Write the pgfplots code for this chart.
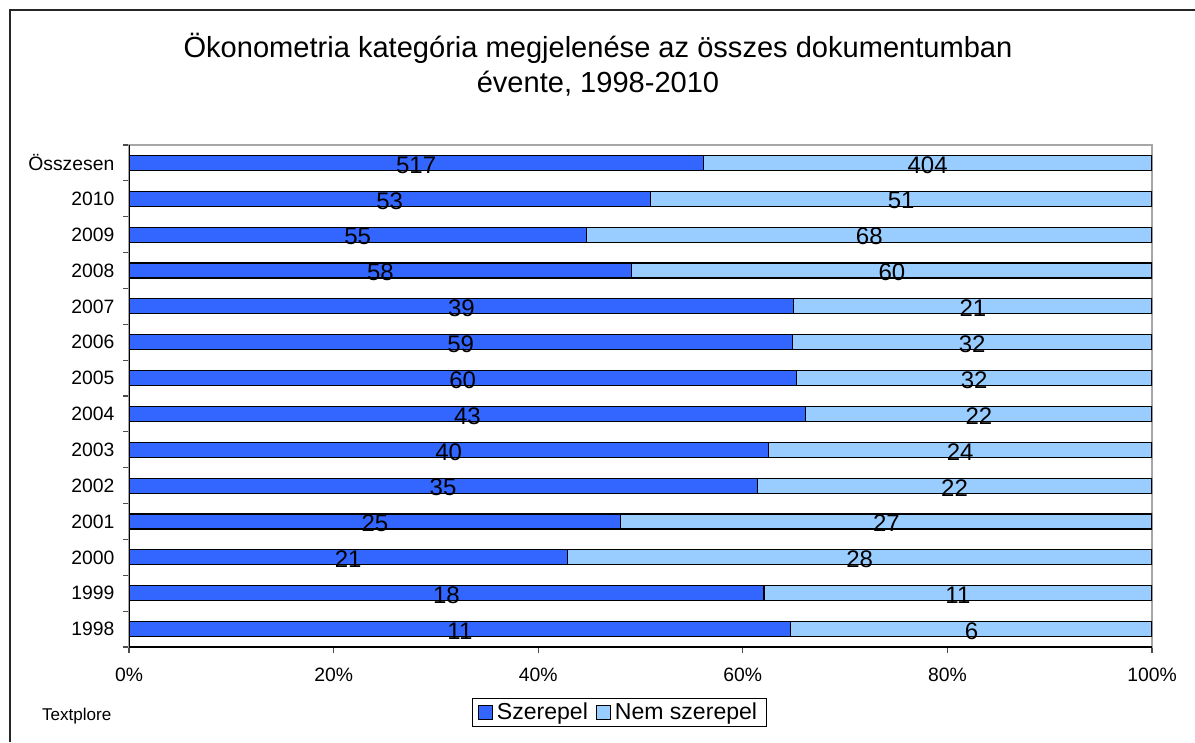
\documentclass[border=0pt]{standalone}
\usepackage{fontspec}
\setmainfont{Liberation Sans}
\usepackage{pgfplots}
\usepackage{pgfplotstable}
\pgfplotsset{compat=1.18}

\definecolor{szer}{HTML}{3366FF}
\definecolor{nemszer}{HTML}{99CCFF}

% y: row position, szp/nemp: share in %, sz/nem: counts, m1/m2: label positions
\pgfplotstableread{
y szp    nemp   sz  nem m1    m2
0 64.706 35.294 11  6   32.35 82.35
1 62.069 37.931 18  11  31.03 81.03
2 42.857 57.143 21  28  21.43 71.43
3 48.077 51.923 25  27  24.04 74.04
4 61.404 38.596 35  22  30.70 80.70
5 62.500 37.500 40  24  31.25 81.25
6 66.154 33.846 43  22  33.08 83.08
7 65.217 34.783 60  32  32.61 82.61
8 64.835 35.165 59  32  32.42 82.42
9 65.000 35.000 39  21  32.50 82.50
10 49.153 50.847 58 60  24.58 74.58
11 44.715 55.285 55 68  22.36 72.36
12 50.962 49.038 53 51  25.48 75.48
13 56.135 43.865 517 404 28.07 78.07
}\dataA

\begin{document}
\begin{tikzpicture}
\useasboundingbox (0,0) rectangle (896.25pt,-556.5pt);
\draw[black!85, line width=1.3pt] (7.5pt,-556.5pt) -- (7.5pt,-7.5pt) -- (896.25pt,-7.5pt);

\node[anchor=base, font=\fontsize{21.8}{24}\selectfont] at (448.5pt,-43.5pt)
  {Ökonometria kategória megjelenése az összes dokumentumban};
\node[anchor=base, font=\fontsize{21.8}{24}\selectfont] at (448.5pt,-69.5pt)
  {évente, 1998-2010};
\node[anchor=base west, font=\fontsize{12.8}{15}\selectfont] at (28pt,-540pt) {Textplore};

\begin{axis}[
    at={(96.75pt,-485.25pt)}, anchor=south west,
    scale only axis, width=767.25pt, height=376.5pt,
    xbar stacked, bar width=11.25pt,
    xmin=0, xmax=100, ymin=-0.5, ymax=13.5,
    xtick={0,20,...,100},
    xticklabel={\pgfmathprintnumber{\tick}\%},
    ytick={-0.5,0.5,...,13.5},
    y tick label as interval,
    yticklabels={1998,1999,2000,2001,2002,2003,2004,2005,2006,2007,2008,2009,2010,Összesen},
    tick pos=left, tick align=outside,
    major tick length=4.5pt,
    tick style={black!70, line width=0.8pt},
    /pgf/number format/assume math mode=true,
    ticklabel style={font=\fontsize{14.5}{17}\selectfont},
    xticklabel style={yshift=-7.5pt},
    yticklabel style={xshift=-3pt},
    axis line style={gray!70, line width=0.8pt},
    legend style={at={(0.4795,-0.13)}, anchor=center, draw=black, line width=0.75pt,
                  font=\fontsize{17.3}{20}\selectfont, legend columns=2,
                  inner xsep=4pt, inner ysep=1.5pt,
                  nodes={inner xsep=3pt},
                  /tikz/every even column/.append style={column sep=3pt}},
    legend image code/.code={\draw[#1, draw=black, line width=0.7pt] (0pt,-5.2pt) rectangle (10.5pt,5.2pt);},
]
\addplot[fill=szer, draw=black, line width=0.8pt] table[x=szp, y=y] {\dataA};
\addplot[fill=nemszer, draw=black, line width=0.8pt] table[x=nemp, y=y] {\dataA};
\legend{Szerepel, Nem szerepel}
\draw[black, line width=1pt] (rel axis cs:0,1) -- (rel axis cs:0,0) -- (rel axis cs:1,0);
\end{axis}

\begin{axis}[
    at={(96.75pt,-485.25pt)}, anchor=south west,
    scale only axis, width=767.25pt, height=376.5pt,
    xmin=0, xmax=100, ymin=-0.5, ymax=13.5,
    hide axis,
    nodes near coords, point meta=explicit symbolic,
    every node near coord/.style={anchor=center, yshift=-1.5pt, text=black,
        font=\fontsize{18}{20}\selectfont},
]
\addplot[only marks, mark=none] table[x=m1, y=y, meta=sz] {\dataA};
\addplot[only marks, mark=none] table[x=m2, y=y, meta=nem] {\dataA};
\end{axis}
\end{tikzpicture}
\end{document}
